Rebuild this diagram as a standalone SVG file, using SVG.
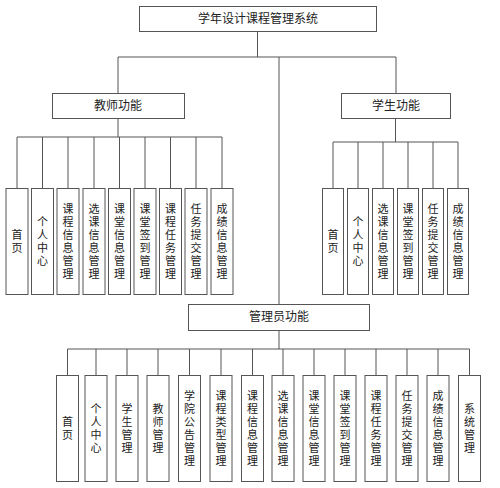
<svg xmlns="http://www.w3.org/2000/svg" width="500" height="488" viewBox="0 0 500 488">
<style>
.b{fill:#fff;stroke:#555;stroke-width:1}
.c{fill:none;stroke:#555;stroke-width:1}
.t{font-family:"Noto Sans CJK SC","Noto Sans",sans-serif;font-size:11px;fill:#222;text-anchor:middle;writing-mode:vertical-rl;text-orientation:upright;letter-spacing:2px}
.h{font-family:"Noto Sans CJK SC","Noto Sans",sans-serif;font-size:12px;fill:#222;text-anchor:middle}
</style>
<rect width="500" height="488" fill="#fff"/>
<g id="connectors" class="c">
<path d="M257.5 31V57M118 57H396M118 57V93M396 57V93M279 57V304"/>
<path d="M118 118V137M17 137H222M17 137V188M42.5 137V188M68 137V188M94 137V188M119.5 137V188M145 137V188M170.5 137V188M196 137V188M222 137V188"/>
<path d="M395.5 118V142M333 142H458M333 142V188M358 142V188M383 142V188M408 142V188M433 142V188M458 142V188"/>
<path d="M279 330V349M67.5 349H469.5M67.5 349V375M96 349V375M127 349V375M158 349V375M189.5 349V375M221 349V375M252.5 349V375M283 349V375M314 349V375M345 349V375M376 349V375M407 349V375M438 349V375M469.5 349V375"/>
</g>
<g id="root"><rect class="b" x="139.5" y="6.5" width="237" height="25"/><text class="h" x="258" y="23">学年设计课程管理系统</text></g>
<g id="teacher"><rect class="b" x="52.5" y="93.5" width="132" height="25"/><text class="h" x="118" y="110">教师功能</text></g>
<g id="student"><rect class="b" x="341.5" y="93.5" width="109" height="25"/><text class="h" x="396" y="110">学生功能</text></g>
<g id="admin"><rect class="b" x="188.5" y="304.5" width="181" height="26"/><text class="h" x="279" y="321">管理员功能</text></g>

<g id="t1"><rect class="b" x="6" y="188.5" width="22" height="106"/><text class="t" x="17" y="242">首页</text></g>
<g id="t2"><rect class="b" x="31.5" y="188.5" width="22" height="106"/><text class="t" x="42.5" y="242">个人中心</text></g>
<g id="t3"><rect class="b" x="57" y="188.5" width="22" height="106"/><text class="t" x="68" y="242">课程信息管理</text></g>
<g id="t4"><rect class="b" x="83" y="188.5" width="22" height="106"/><text class="t" x="94" y="242">选课信息管理</text></g>
<g id="t5"><rect class="b" x="108.5" y="188.5" width="22" height="106"/><text class="t" x="119.5" y="242">课堂信息管理</text></g>
<g id="t6"><rect class="b" x="134" y="188.5" width="22" height="106"/><text class="t" x="145" y="242">课堂签到管理</text></g>
<g id="t7"><rect class="b" x="159.5" y="188.5" width="22" height="106"/><text class="t" x="170.5" y="242">课程任务管理</text></g>
<g id="t8"><rect class="b" x="185" y="188.5" width="22" height="106"/><text class="t" x="196" y="242">任务提交管理</text></g>
<g id="t9"><rect class="b" x="211" y="188.5" width="22" height="106"/><text class="t" x="222" y="242">成绩信息管理</text></g>

<g id="s1"><rect class="b" x="322.5" y="188.5" width="21" height="106"/><text class="t" x="333" y="242">首页</text></g>
<g id="s2"><rect class="b" x="347.5" y="188.5" width="21" height="106"/><text class="t" x="358" y="242">个人中心</text></g>
<g id="s3"><rect class="b" x="372.5" y="188.5" width="21" height="106"/><text class="t" x="383" y="242">选课信息管理</text></g>
<g id="s4"><rect class="b" x="397.5" y="188.5" width="21" height="106"/><text class="t" x="408" y="242">课堂签到管理</text></g>
<g id="s5"><rect class="b" x="422.5" y="188.5" width="21" height="106"/><text class="t" x="433" y="242">任务提交管理</text></g>
<g id="s6"><rect class="b" x="447.5" y="188.5" width="21" height="106"/><text class="t" x="458" y="242">成绩信息管理</text></g>

<g id="a1"><rect class="b" x="56.5" y="375.5" width="22" height="106"/><text class="t" x="67.5" y="429">首页</text></g>
<g id="a2"><rect class="b" x="85" y="375.5" width="22" height="106"/><text class="t" x="96" y="429">个人中心</text></g>
<g id="a3"><rect class="b" x="116" y="375.5" width="22" height="106"/><text class="t" x="127" y="429">学生管理</text></g>
<g id="a4"><rect class="b" x="147" y="375.5" width="22" height="106"/><text class="t" x="158" y="429">教师管理</text></g>
<g id="a5"><rect class="b" x="178.5" y="375.5" width="22" height="106"/><text class="t" x="189.5" y="429">学院公告管理</text></g>
<g id="a6"><rect class="b" x="210" y="375.5" width="22" height="106"/><text class="t" x="221" y="429">课程类型管理</text></g>
<g id="a7"><rect class="b" x="241.5" y="375.5" width="22" height="106"/><text class="t" x="252.5" y="429">课程信息管理</text></g>
<g id="a8"><rect class="b" x="272" y="375.5" width="22" height="106"/><text class="t" x="283" y="429">选课信息管理</text></g>
<g id="a9"><rect class="b" x="303" y="375.5" width="22" height="106"/><text class="t" x="314" y="429">课堂信息管理</text></g>
<g id="a10"><rect class="b" x="334" y="375.5" width="22" height="106"/><text class="t" x="345" y="429">课堂签到管理</text></g>
<g id="a11"><rect class="b" x="365" y="375.5" width="22" height="106"/><text class="t" x="376" y="429">课程任务管理</text></g>
<g id="a12"><rect class="b" x="396" y="375.5" width="22" height="106"/><text class="t" x="407" y="429">任务提交管理</text></g>
<g id="a13"><rect class="b" x="427" y="375.5" width="22" height="106"/><text class="t" x="438" y="429">成绩信息管理</text></g>
<g id="a14"><rect class="b" x="458.5" y="375.5" width="22" height="106"/><text class="t" x="469.5" y="429">系统管理</text></g>
</svg>
